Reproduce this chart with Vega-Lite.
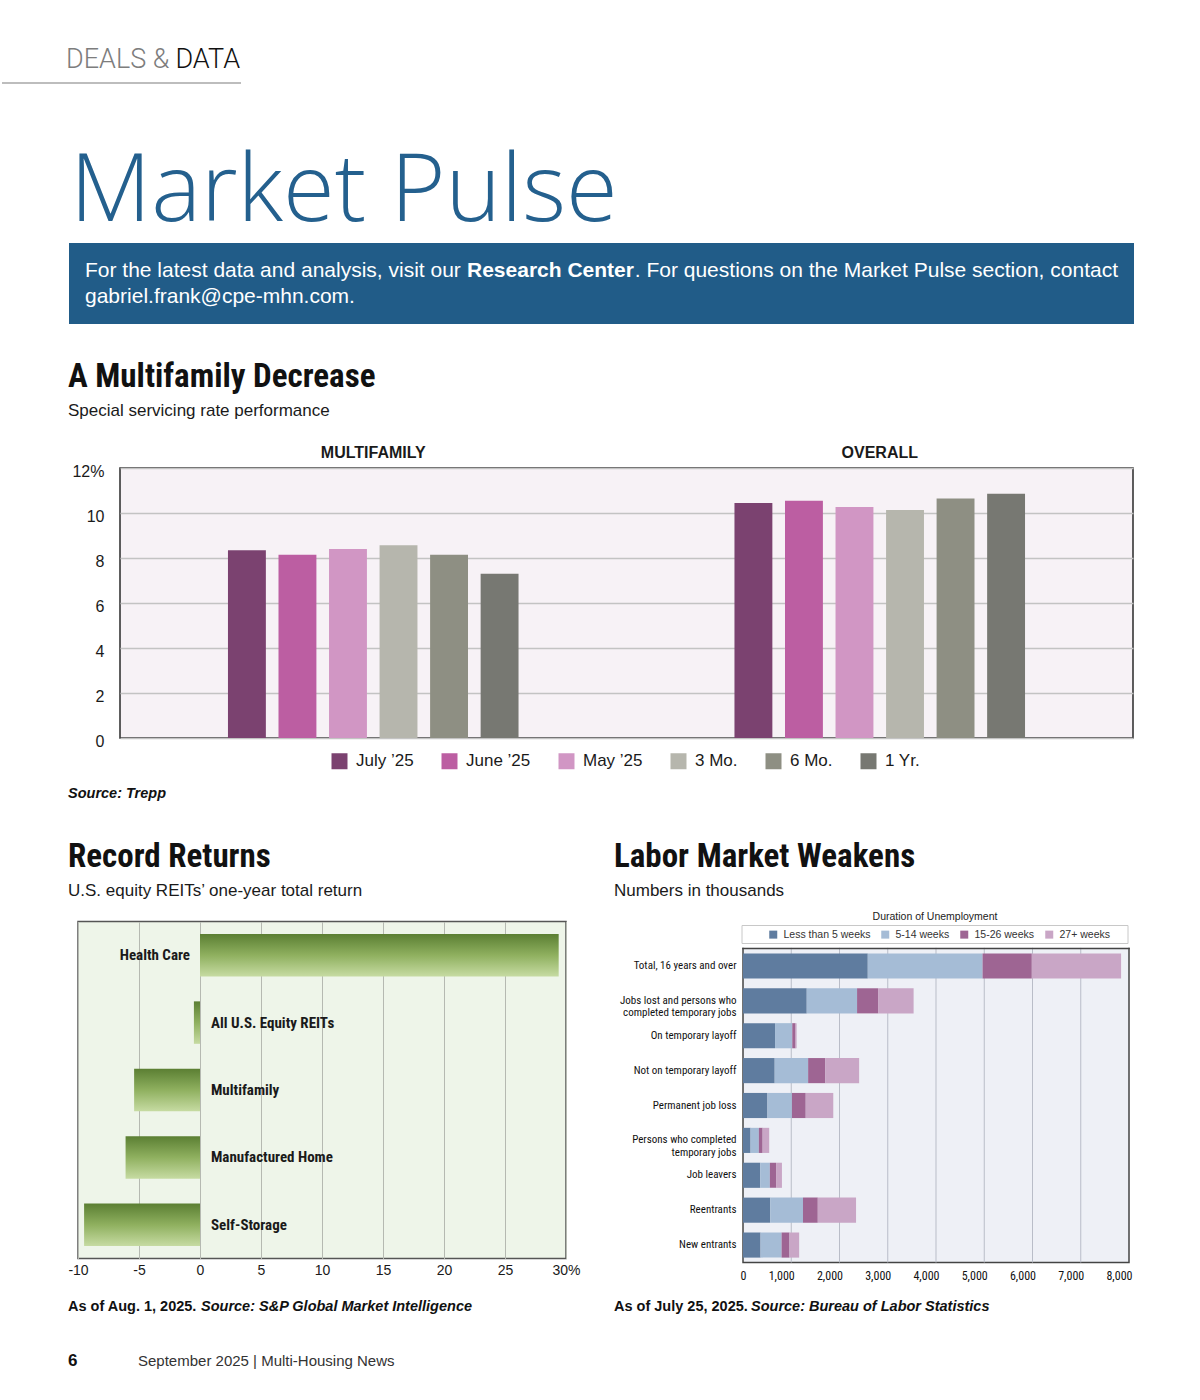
{
  "$schema": "https://vega.github.io/schema/vega-lite/v6.json",
  "background": "white",
  "padding": {"top": 45, "left": 0, "right": 0, "bottom": 0},
  "spacing": 37.5,
  "resolve": {"scale": {"color": "independent"}, "legend": {"color": "independent"}},
  "config": {
    "view": {"stroke": null},
    "font": "Liberation Sans",
    "text": {"baseline": "alphabetic", "align": "left", "color": "#1a1a1a", "font": "Liberation Sans"},
    "axis": {"labelFont": "Liberation Sans"},
    "legend": {"labelFont": "Liberation Sans"}
  },
  "vconcat": [
    {
      "spacing": 0,
      "resolve": {"scale": {"color": "independent"}, "legend": {"color": "independent"}},
      "hconcat": [
        {"width": 1, "height": 1, "data": {"values": []}, "mark": "point", "encoding": {}},
        {
          "width": 1013,
          "height": 270,
          "view": {"fill": "#f7f2f6", "stroke": "#2a2a2a", "strokeWidth": 1.5},
          "layer": [
            {
              "data": {"values": [
                {"segment": "MULTIFAMILY", "period": "July ’25", "rate": 8.35},
                {"segment": "MULTIFAMILY", "period": "June ’25", "rate": 8.15},
                {"segment": "MULTIFAMILY", "period": "May ’25", "rate": 8.4},
                {"segment": "MULTIFAMILY", "period": "3 Mo.", "rate": 8.57},
                {"segment": "MULTIFAMILY", "period": "6 Mo.", "rate": 8.15},
                {"segment": "MULTIFAMILY", "period": "1 Yr.", "rate": 7.3},
                {"segment": "OVERALL", "period": "July ’25", "rate": 10.45},
                {"segment": "OVERALL", "period": "June ’25", "rate": 10.55},
                {"segment": "OVERALL", "period": "May ’25", "rate": 10.27},
                {"segment": "OVERALL", "period": "3 Mo.", "rate": 10.13},
                {"segment": "OVERALL", "period": "6 Mo.", "rate": 10.65},
                {"segment": "OVERALL", "period": "1 Yr.", "rate": 10.86}
              ]},
              "mark": {"type": "bar"},
              "encoding": {
                "x": {"field": "segment", "type": "nominal", "sort": ["MULTIFAMILY", "OVERALL"],
                  "scale": {"paddingInner": 0, "paddingOuter": 0},
                  "axis": {"title": null, "labels": false, "ticks": false, "domain": false, "grid": true, "bandPosition": 0, "gridColor": "#2a2a2a", "gridWidth": 1.5}},
                "xOffset": {"field": "period", "type": "nominal",
                  "scale": {"domain": [" ", "  ", "July ’25", "June ’25", "May ’25", "3 Mo.", "6 Mo.", "1 Yr.", "   ", "    "], "paddingInner": 0.25, "paddingOuter": 0.1365}},
                "y": {"field": "rate", "type": "quantitative", "scale": {"domain": [0, 12], "nice": false},
                  "axis": {"title": null, "values": [0, 2, 4, 6, 8, 10, 12], "labelExpr": "datum.value == 12 ? '12%' : datum.label",
                    "grid": true, "gridColor": "#c3c3c3", "gridWidth": 1.5, "ticks": false, "domain": false,
                    "labelFontSize": 16, "labelColor": "#1a1a1a", "labelPadding": 16, "labelOffset": 3}},
                "color": {"field": "period", "type": "nominal",
                  "scale": {"domain": ["July ’25", "June ’25", "May ’25", "3 Mo.", "6 Mo.", "1 Yr."],
                    "range": ["#7b4270", "#bc5ea2", "#d196c4", "#b6b6ad", "#8e8f83", "#777872"]},
                  "legend": {"orient": "none", "legendX": 211, "legendY": 284.5, "direction": "horizontal", "title": null,
                    "symbolType": "square", "symbolSize": 256, "symbolStrokeWidth": 0, "labelFontSize": 17, "labelColor": "#1a1a1a",
                    "columnPadding": 27, "labelOffset": 8, "padding": 0}}
              }
            },
            {
              "data": {"values": [{"segment": "MULTIFAMILY"}, {"segment": "OVERALL"}]},
              "mark": {"type": "text", "y": -10, "fontSize": 16, "fontWeight": "bold", "align": "center", "baseline": "alphabetic"},
              "encoding": {
                "x": {"field": "segment", "type": "nominal", "sort": ["MULTIFAMILY", "OVERALL"], "axis": null},
                "text": {"field": "segment"}
              }
            },
            {"data": {"values": [{}]}, "mark": {"type": "text", "x": -54, "y": -400, "text": "DEALS &", "fontSize": 27, "font": "Roboto", "fontWeight": 300, "color": "#7d7d7d"}, "encoding": {}},
            {"data": {"values": [{}]}, "mark": {"type": "text", "x": 120, "y": -400, "text": "DATA", "align": "right", "fontSize": 27, "font": "Roboto", "fontWeight": 300, "color": "#111111"}, "encoding": {}},
            {"data": {"values": [{}]}, "mark": {"type": "rect", "x": -118, "x2": 121, "y": -386, "y2": -384, "color": "#bdbdbd"}, "encoding": {}},
            {"data": {"values": [{}]}, "mark": {"type": "text", "x": -50, "y": -247, "text": "Market Pulse", "fontSize": 94, "font": "Open Sans", "fontWeight": 300, "color": "#24608e"}, "encoding": {}},
            {"data": {"values": [{}]}, "mark": {"type": "rect", "x": -51, "x2": 1014, "y": -225, "y2": -144, "color": "#215c88"}, "encoding": {}},
            {"data": {"values": [{}]}, "mark": {"type": "text", "x": -35, "y": -191, "text": "For the latest data and analysis, visit our ", "fontSize": 21, "color": "white"}, "encoding": {}},
            {"data": {"values": [{}]}, "mark": {"type": "text", "x": 347, "y": -191, "text": "Research Center", "fontSize": 21, "fontWeight": "bold", "color": "white"}, "encoding": {}},
            {"data": {"values": [{}]}, "mark": {"type": "text", "x": 998, "y": -191, "align": "right", "text": ". For questions on the Market Pulse section, contact", "fontSize": 21, "color": "white"}, "encoding": {}},
            {"data": {"values": [{}]}, "mark": {"type": "text", "x": -35, "y": -165, "text": "gabriel.frank@cpe-mhn.com.", "fontSize": 21, "color": "white"}, "encoding": {}},
            {"data": {"values": [{}]}, "mark": {"type": "text", "x": -52, "y": -81, "text": "A Multifamily Decrease", "fontSize": 33, "fontWeight": "bold", "font": "Roboto Condensed, Lato, sans-serif", "color": "#111111"}, "encoding": {}},
            {"data": {"values": [{}]}, "mark": {"type": "text", "x": -52, "y": -52, "text": "Special servicing rate performance", "fontSize": 17, "color": "#1a1a1a"}, "encoding": {}},
            {"data": {"values": [{}]}, "mark": {"type": "text", "x": -52, "y": 330, "text": "Source: Trepp", "fontSize": 14.5, "fontWeight": "bold", "fontStyle": "italic", "color": "#111111"}, "encoding": {}}
          ]
        }
      ]
    },
    {
      "spacing": 32,
      "resolve": {"scale": {"color": "independent"}, "legend": {"color": "independent"}},
      "hconcat": [
        {"width": 35, "height": 1, "data": {"values": []}, "mark": "point", "encoding": {}},
        {
          "width": 488,
          "height": 337,
          "view": {"fill": "#eef5e9", "stroke": "#555555", "strokeWidth": 1.5},
          "data": {"values": [
            {"sector": "Health Care", "ret": 29.4},
            {"sector": "All U.S. Equity REITs", "ret": -0.5},
            {"sector": "Multifamily", "ret": -5.4},
            {"sector": "Manufactured Home", "ret": -6.1},
            {"sector": "Self-Storage", "ret": -9.5}
          ]},
          "layer": [
            {
              "mark": {"type": "bar", "color": {"gradient": "linear", "x1": 0, "y1": 0, "x2": 0, "y2": 1,
                "stops": [{"offset": 0, "color": "#5b7f33"}, {"offset": 0.5, "color": "#8fb05f"}, {"offset": 1, "color": "#c6dba2"}]}},
              "encoding": {
                "y": {"field": "sector", "type": "nominal",
                  "sort": ["Health Care", "All U.S. Equity REITs", "Multifamily", "Manufactured Home", "Self-Storage"],
                  "scale": {"paddingInner": 0.37, "paddingOuter": 0.185}, "axis": null},
                "x": {"field": "ret", "type": "quantitative", "scale": {"domain": [-10, 30], "nice": false},
                  "axis": {"title": null, "values": [-10, -5, 0, 5, 10, 15, 20, 25, 30],
                    "labelExpr": "datum.value == 30 ? '30%' : (datum.value < 0 ? '-' + abs(datum.value) : '' + datum.value)",
                    "grid": true, "gridColor": "#b5b9b1",
                    "ticks": false, "domain": false, "labelFontSize": 14, "labelColor": "#1a1a1a", "labelPadding": 5,
                    "labelFlush": false, "labelOverlap": false}}
              }
            },
            {
              "transform": [{"filter": "datum.ret > 0"}],
              "mark": {"type": "text", "align": "right", "baseline": "middle", "dx": -10, "fontSize": 15, "fontWeight": "bold", "font": "Roboto Condensed, Lato, sans-serif"},
              "encoding": {
                "y": {"field": "sector", "type": "nominal", "sort": ["Health Care", "All U.S. Equity REITs", "Multifamily", "Manufactured Home", "Self-Storage"], "axis": null},
                "x": {"datum": 0},
                "text": {"field": "sector"}
              }
            },
            {
              "transform": [{"filter": "datum.ret < 0"}],
              "mark": {"type": "text", "align": "left", "baseline": "middle", "dx": 11, "fontSize": 15, "fontWeight": "bold", "font": "Roboto Condensed, Lato, sans-serif"},
              "encoding": {
                "y": {"field": "sector", "type": "nominal", "sort": ["Health Care", "All U.S. Equity REITs", "Multifamily", "Manufactured Home", "Self-Storage"], "axis": null},
                "x": {"datum": 0},
                "text": {"field": "sector"}
              }
            },
            {"data": {"values": [{}]}, "mark": {"type": "text", "x": -10, "y": -55, "text": "Record Returns", "fontSize": 33, "fontWeight": "bold", "font": "Roboto Condensed, Lato, sans-serif", "color": "#111111"}, "encoding": {}},
            {"data": {"values": [{}]}, "mark": {"type": "text", "x": -10, "y": -26, "text": "U.S. equity REITs’ one-year total return", "fontSize": 17}, "encoding": {}},
            {"data": {"values": [{}]}, "mark": {"type": "text", "x": -10, "y": 389, "text": "As of Aug. 1, 2025.", "fontSize": 14.5, "fontWeight": "bold", "color": "#111111"}, "encoding": {}},
            {"data": {"values": [{}]}, "mark": {"type": "text", "x": 123, "y": 389, "text": "Source: S&P Global Market Intelligence", "fontSize": 14.5, "fontWeight": "bold", "fontStyle": "italic", "color": "#111111"}, "encoding": {}},
            {"data": {"values": [{}]}, "mark": {"type": "text", "x": -10, "y": 444, "text": "6", "fontSize": 17, "fontWeight": "bold", "color": "#111111"}, "encoding": {}},
            {"data": {"values": [{}]}, "mark": {"type": "text", "x": 60, "y": 444, "text": "September 2025  |  Multi-Housing News", "fontSize": 15, "color": "#333333"}, "encoding": {}}
          ]
        },
        {
          "width": 386,
          "height": 341,
          "view": {"fill": "#eef0f6", "stroke": "#444444", "strokeWidth": 1.5},
          "layer": [
            {
              "data": {"values": [{"g": 1000}, {"g": 2000}, {"g": 3000}, {"g": 4000}, {"g": 5000}, {"g": 6000}, {"g": 7000}]},
              "mark": {"type": "rule", "color": "#b9bdc8", "strokeWidth": 1},
              "encoding": {"x": {"field": "g", "type": "quantitative", "title": null}}
            },
            {
              "data": {"values": [
                {"group": "Total, 16 years and over", "duration": "Less than 5 weeks", "d": 1, "n": 2586},
                {"group": "Total, 16 years and over", "duration": "5-14 weeks", "d": 2, "n": 2379},
                {"group": "Total, 16 years and over", "duration": "15-26 weeks", "d": 3, "n": 1021},
                {"group": "Total, 16 years and over", "duration": "27+ weeks", "d": 4, "n": 1850},
                {"group": "Jobs lost and persons who completed temporary jobs", "duration": "Less than 5 weeks", "d": 1, "n": 1321},
                {"group": "Jobs lost and persons who completed temporary jobs", "duration": "5-14 weeks", "d": 2, "n": 1043},
                {"group": "Jobs lost and persons who completed temporary jobs", "duration": "15-26 weeks", "d": 3, "n": 436},
                {"group": "Jobs lost and persons who completed temporary jobs", "duration": "27+ weeks", "d": 4, "n": 736},
                {"group": "On temporary layoff", "duration": "Less than 5 weeks", "d": 1, "n": 664},
                {"group": "On temporary layoff", "duration": "5-14 weeks", "d": 2, "n": 357},
                {"group": "On temporary layoff", "duration": "15-26 weeks", "d": 3, "n": 68},
                {"group": "On temporary layoff", "duration": "27+ weeks", "d": 4, "n": 22},
                {"group": "Not on temporary layoff", "duration": "Less than 5 weeks", "d": 1, "n": 657},
                {"group": "Not on temporary layoff", "duration": "5-14 weeks", "d": 2, "n": 693},
                {"group": "Not on temporary layoff", "duration": "15-26 weeks", "d": 3, "n": 357},
                {"group": "Not on temporary layoff", "duration": "27+ weeks", "d": 4, "n": 700},
                {"group": "Permanent job loss", "duration": "Less than 5 weeks", "d": 1, "n": 507},
                {"group": "Permanent job loss", "duration": "5-14 weeks", "d": 2, "n": 507},
                {"group": "Permanent job loss", "duration": "15-26 weeks", "d": 3, "n": 286},
                {"group": "Permanent job loss", "duration": "27+ weeks", "d": 4, "n": 571},
                {"group": "Persons who completed temporary jobs", "duration": "Less than 5 weeks", "d": 1, "n": 157},
                {"group": "Persons who completed temporary jobs", "duration": "5-14 weeks", "d": 2, "n": 171},
                {"group": "Persons who completed temporary jobs", "duration": "15-26 weeks", "d": 3, "n": 79},
                {"group": "Persons who completed temporary jobs", "duration": "27+ weeks", "d": 4, "n": 136},
                {"group": "Job leavers", "duration": "Less than 5 weeks", "d": 1, "n": 357},
                {"group": "Job leavers", "duration": "5-14 weeks", "d": 2, "n": 200},
                {"group": "Job leavers", "duration": "15-26 weeks", "d": 3, "n": 129},
                {"group": "Job leavers", "duration": "27+ weeks", "d": 4, "n": 121},
                {"group": "Reentrants", "duration": "Less than 5 weeks", "d": 1, "n": 564},
                {"group": "Reentrants", "duration": "5-14 weeks", "d": 2, "n": 679},
                {"group": "Reentrants", "duration": "15-26 weeks", "d": 3, "n": 307},
                {"group": "Reentrants", "duration": "27+ weeks", "d": 4, "n": 793},
                {"group": "New entrants", "duration": "Less than 5 weeks", "d": 1, "n": 364},
                {"group": "New entrants", "duration": "5-14 weeks", "d": 2, "n": 436},
                {"group": "New entrants", "duration": "15-26 weeks", "d": 3, "n": 164},
                {"group": "New entrants", "duration": "27+ weeks", "d": 4, "n": 200}
              ]},
              "mark": {"type": "bar"},
              "encoding": {
                "y": {"field": "group", "type": "nominal",
                  "sort": ["Total, 16 years and over", "Jobs lost and persons who completed temporary jobs", "On temporary layoff", "Not on temporary layoff", "Permanent job loss", "Persons who completed temporary jobs", "Job leavers", "Reentrants", "New entrants"],
                  "scale": {"range": [27, 341], "paddingInner": 0.28, "paddingOuter": 0.14},
                  "axis": {"title": null, "ticks": false, "domain": false, "grid": false, "labelFontSize": 11, "labelPadding": 7, "labelColor": "#111111",
                    "labelFont": "Roboto Condensed, Lato, sans-serif", "labelLineHeight": 12.5, "labelLimit": 300,
                    "labelExpr": "datum.label == 'Jobs lost and persons who completed temporary jobs' ? ['Jobs lost and persons who', 'completed temporary jobs'] : (datum.label == 'Persons who completed temporary jobs' ? ['Persons who completed', 'temporary jobs'] : datum.label)"}},
                "x": {"field": "n", "type": "quantitative", "stack": "zero", "scale": {"domain": [0, 8000], "nice": false},
                  "axis": {"title": null, "values": [0, 1000, 2000, 3000, 4000, 5000, 6000, 7000, 8000], "format": ",d",
                    "grid": false, "ticks": false, "domain": false, "labelFontSize": 12,
                    "labelFont": "Roboto Condensed, Lato, sans-serif", "labelColor": "#111111",
                    "labelPadding": 8, "labelAlign": "right", "labelOffset": 3, "labelFlush": false, "labelOverlap": false}},
                "color": {"field": "duration", "type": "nominal",
                  "scale": {"domain": ["Less than 5 weeks", "5-14 weeks", "15-26 weeks", "27+ weeks"],
                    "range": ["#5f7c9f", "#a5bcd6", "#9e6593", "#c9a6c6"]},
                  "legend": {"orient": "none", "legendX": 25, "legendY": 7.75, "direction": "horizontal", "title": null,
                    "symbolType": "square", "symbolSize": 64, "symbolStrokeWidth": 0, "labelFontSize": 10.5, "labelColor": "#333333",
                    "columnPadding": 9, "labelOffset": 5, "padding": 0}},
                "order": {"field": "d", "type": "quantitative"}
              }
            },
            {"data": {"values": [{}]}, "mark": {"type": "rect", "x": -3, "x2": 389, "y": -3, "y2": 26.25, "color": "white"}, "encoding": {}},
            {"data": {"values": [{}]}, "mark": {"type": "rect", "x": -0.75, "x2": 386.75, "y": 26.25, "y2": 27.75, "color": "#444444"}, "encoding": {}},
            {"data": {"values": [{}]}, "mark": {"type": "rect", "x": -1, "x2": 385, "y": 4, "y2": 22, "fill": "white", "stroke": "#c8c8c8", "strokeWidth": 1}, "encoding": {}},
            {"data": {"values": [{}]}, "mark": {"type": "text", "x": 192, "y": -2, "align": "center", "text": "Duration of Unemployment", "fontSize": 10.5, "color": "#222222"}, "encoding": {}},
            {"data": {"values": [{}]}, "mark": {"type": "text", "x": -129, "y": -55, "text": "Labor Market Weakens", "fontSize": 33, "fontWeight": "bold", "font": "Roboto Condensed, Lato, sans-serif", "color": "#111111"}, "encoding": {}},
            {"data": {"values": [{}]}, "mark": {"type": "text", "x": -129, "y": -26, "text": "Numbers in thousands", "fontSize": 17}, "encoding": {}},
            {"data": {"values": [{}]}, "mark": {"type": "text", "x": -129, "y": 389, "text": "As of July 25, 2025.", "fontSize": 14.5, "fontWeight": "bold", "color": "#111111"}, "encoding": {}},
            {"data": {"values": [{}]}, "mark": {"type": "text", "x": 8, "y": 389, "text": "Source: Bureau of Labor Statistics", "fontSize": 14.5, "fontWeight": "bold", "fontStyle": "italic", "color": "#111111"}, "encoding": {}}
          ]
        }
      ]
    }
  ]
}
